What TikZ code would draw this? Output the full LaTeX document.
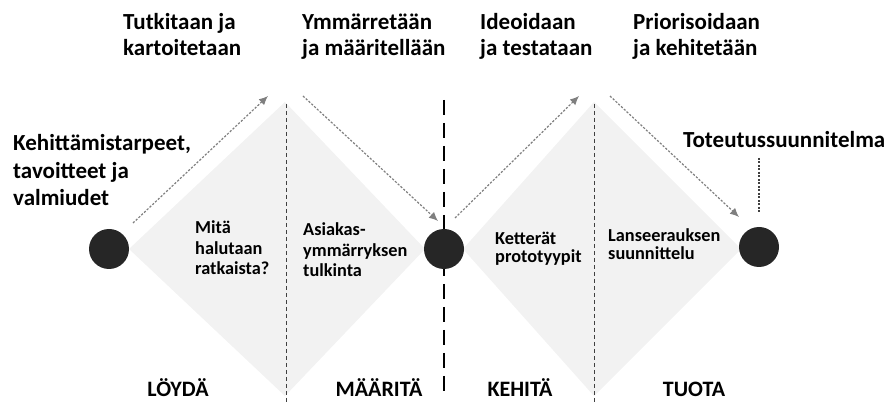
\documentclass[tikz,border=0pt]{standalone}
\usepackage{fontspec}
\setmainfont{Carlito}
\usetikzlibrary{arrows.meta}
\definecolor{dotcol}{HTML}{262626}
\definecolor{diamondgray}{HTML}{F2F2F2}
\definecolor{flow}{HTML}{7F7F7F}
\definecolor{guide}{HTML}{404040}
\tikzset{
  phase/.style={anchor=base west, inner sep=0pt, align=left,
    font=\fontsize{23}{26}\selectfont\bfseries},
  side/.style={anchor=base west, inner sep=0pt, align=left,
    font=\fontsize{23}{27.5}\selectfont\bfseries},
  inner/.style={anchor=base west, inner sep=0pt, align=left,
    font=\fontsize{18.3}{20.5}\selectfont\bfseries},
  innertwo/.style={inner, font=\fontsize{18.3}{18.5}\selectfont\bfseries},
  stage/.style={anchor=base, inner sep=0pt,
    font=\fontsize{22}{24}\selectfont\bfseries},
  milestone/.style={circle, fill=dotcol, minimum size=40pt, inner sep=0pt},
  flowarrow/.style={flow, line width=1.2pt, dash pattern=on 2.2pt off 1.6pt,
    -{Latex[length=9pt,width=8pt]}},
  divider/.style={guide, line width=1pt, dash pattern=on 4.5pt off 2.5pt},
  middivider/.style={black, line width=2.5pt, dash pattern=on 15pt off 8pt},
}
\begin{document}
\begin{tikzpicture}[x=1pt, y=-1pt]
\useasboundingbox (0,0) rectangle (887,403);

% shaded diamonds
\fill[diamondgray] (129,249) -- (285,102) -- (425,249) -- (285,396) -- cycle;
\fill[diamondgray] (463,249) -- (594,102) -- (741,249) -- (594,396) -- cycle;

% dividers
\draw[divider] (286,104) -- (286,403);
\draw[divider] (594,104) -- (594,403);
\draw[middivider] (444,100) -- (444,395);

% milestones
\node[milestone] (start) at (109,249) {};
\node[milestone] (mid) at (444,249) {};
\node[milestone] (end) at (759,247) {};

% flow arrows
\coordinate (a1s) at (133,223);
\coordinate (a1e) at (268,96);
\coordinate (a2s) at (303,96);
\coordinate (a2e) at (438,221);
\coordinate (a3s) at (455,218);
\coordinate (a3e) at (579,96);
\coordinate (a4s) at (610,96);
\coordinate (a4e) at (739,217);
\draw[flowarrow] (a1s) -- (a1e);
\draw[flowarrow] (a2s) -- (a2e);
\draw[flowarrow] (a3s) -- (a3e);
\draw[flowarrow] (a4s) -- (a4e);

% phase headings (anchored at the baseline of the last line)
\node[phase] (h1) at (123,56) {Tutkitaan ja\\kartoitetaan};
\node[phase] (h2) at (302,56) {Ymmärretään\\ja määritellään};
\node[phase] (h3) at (480,56) {Ideoidaan\\ja testataan};
\node[phase] (h4) at (633,56) {Priorisoidaan\\ja kehitetään};

% input and output
\node[side] (input) at (13,206) {Kehittämistarpeet,\\tavoitteet ja\\valmiudet};
\node[side] (output) at (683,148) {Toteutussuunnitelma};
\coordinate (outtop) at (759,158);
\coordinate (outbot) at (759,212);
\draw[guide, line width=1.2pt, dash pattern=on 2pt off 1.5pt] (outtop) -- (outbot);

% contents of the diamonds
\node[inner] (q1) at (195,275) {Mitä\\halutaan\\ratkaista?};
\node[inner] (q2) at (303,277) {Asiakas-\\ymmärryksen\\tulkinta};
\node[innertwo] (q3) at (495,263) {Ketterät\\prototyypit};
\node[innertwo] (q4) at (608,260) {Lanseerauksen\\suunnittelu};

% stage names
\node[stage] (s1) at (178,397) {LÖYDÄ};
\node[stage] (s2) at (379,397) {MÄÄRITÄ};
\node[stage] (s3) at (520,397) {KEHITÄ};
\node[stage] (s4) at (694,397) {TUOTA};
\end{tikzpicture}
\end{document}
